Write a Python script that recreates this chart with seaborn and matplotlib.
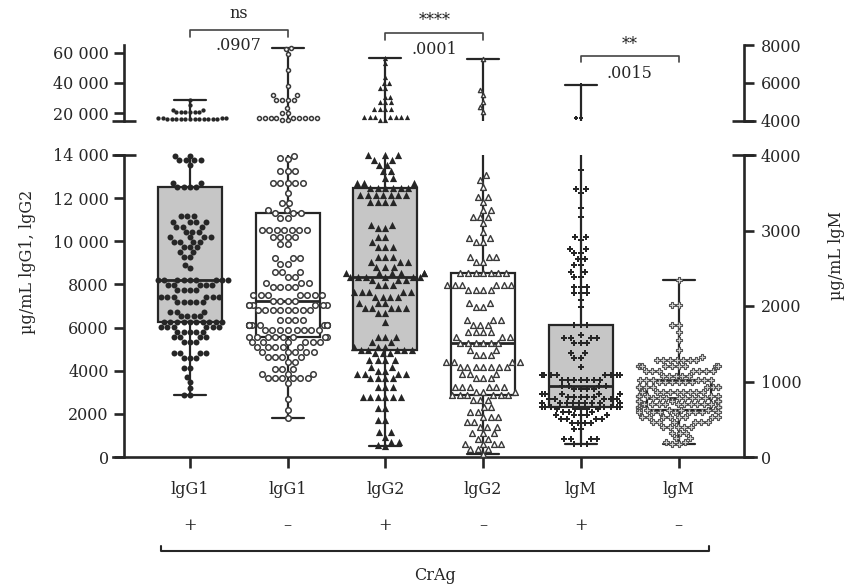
import warnings
warnings.filterwarnings("ignore")
import matplotlib
matplotlib.use("Agg")
import matplotlib.pyplot as plt
import matplotlib.transforms as mtrans
import pandas as pd
import seaborn as sns

# ---------------- data ----------------
groups = ["IgG1+", "IgG1-", "IgG2+", "IgG2-", "IgM+", "IgM-"]
group_labels = ["lgG1", "lgG1", "lgG2", "lgG2", "lgM", "lgM"]
crag_signs = ["+", "–", "+", "–", "+", "–"]
right_axis_groups = ["IgM+", "IgM-"]          # plotted against the right (IgM) axis

igg1_pos = [28900, 25100, 22200, 22200, *[20700] * 6,
            15800, 15900, 16000, 16000, 16100, 16200, 16000, 15900,
            16300, 16500, 16800, 17000, 16400, 15800, 16600, 16200,
            13950, 13950, *[13750] * 4, 13550, 12700, 12700,
            *[12500] * 4,
            *[11150] * 3, *[10900] * 4, *[10680] * 3, *[10450] * 3, *[10200] * 4,
            *[9980] * 4, *[9750] * 3, *[9520] * 2, *[9290] * 2, 8900, 8750,
            *[8200] * 9,
            *[7970] * 5, *[7740] * 4, *[7420] * 6, *[7200] * 5, *[6730] * 3, *[6530] * 4,
            *[6280] * 10,
            *[6040] * 6, *[5810] * 5, *[5570] * 4, *[5340] * 3, *[4800] * 4, *[4570] * 3,
            *[4110] * 2, 3730, 3500, 3180, 2870, 2870]

igg1_neg = [62900, 62500, 59100, 48500, 37800, 31800, 31800, *[28900] * 4, 23600, 20000, 20000,
            16600, 16700, 16800, 16900, 17000, 16900, 16800, 17100, 16700, 15700, 15700,
            13950, 13850, 13800, *[13240] * 3, *[12720] * 5, 12230, 11770, 11770, 11460, 11460,
            *[11300] * 3,
            *[11080] * 2, *[10500] * 7, *[10210] * 4, *[9870] * 2, *[9210] * 3, *[8970] * 2,
            *[8590] * 3, *[8360] * 2, *[8070] * 3, *[7900] * 4, *[7500] * 7,
            *[7250] * 4,
            *[7040] * 6, *[6810] * 8, *[6340] * 4, *[6110] * 12, *[5880] * 8,
            *[5580] * 8,
            *[5350] * 6, *[5120] * 5, *[4870] * 5, *[4640] * 4, *[4410] * 2, *[4100] * 3,
            *[3870] * 3, *[3640] * 6, 3410, 2710, 2170, 1830]

igg2_pos = [56300, 52900, 44000, 39600, 39600, 36300, 36300, 30700, 30700, *[27300] * 3,
            *[22900] * 4, *[17300] * 7, 15700, 15700,
            *[13990] * 3, *[13770] * 2, *[13530] * 2, *[13240] * 2, *[12920] * 2, *[12690] * 3,
            *[12480] * 6,
            *[12150] * 7, *[11830] * 4, *[10750] * 2, *[10600] * 2, *[10210] * 2, 9980,
            *[9750] * 3, *[9290] * 3, *[9060] * 3, *[8830] * 3, *[8510] * 6,
            *[8360] * 6,
            *[8200] * 3, *[7970] * 3, *[7670] * 5, *[7440] * 4, *[7130] * 3, *[6900] * 5,
            *[6670] * 2, 6270, *[5580] * 3, *[5350] * 2, *[5120] * 3,
            *[4950] * 5,
            *[4800] * 3, *[4490] * 4, *[4180] * 2, *[4000] * 2, *[3870] * 4, *[3640] * 4,
            *[3260] * 3, *[2780] * 6, *[2250] * 2, *[1700] * 2, *[1160] * 2, 950,
            *[700] * 2, 540, 500]

igg2_neg = [55600, 35100, 31800, 27300, 24000, 20700,
            13070, 12840, 12530, 12070, 12070, 11830, 11450, 11450, *[11140] * 3, 10830,
            10450, 10140, 10140, 9990, 9990, *[9290] * 3, 9060, 9060,
            *[8510] * 7,
            *[7970] * 6, *[7740] * 4, *[7130] * 2, *[6970] * 2, *[6350] * 3, *[6110] * 3,
            *[5800] * 4, *[5580] * 3,
            *[5300] * 6,
            *[4950] * 2, *[4720] * 3, *[4410] * 4, *[4180] * 7, *[3870] * 3, *[3640] * 3,
            *[3260] * 6, *[3030] * 3,
            *[2860] * 6,
            *[2630] * 3, *[2330] * 2, *[2100] * 2, *[1850] * 3, *[1630] * 2, *[1390] * 3,
            *[1090] * 3, *[850] * 2, *[620] * 4, *[390] * 3, 150]

igm_pos = [5900, 4130, 4130,
           3800, 3546, 3546, 3493, 3294, 3174, 2917, 2917, 2873, 2750, 2750, 2697, 2697,
           2617, 2617, 2542, 2542, 2453, 2453, 2387, 2387, *[2254] * 3, *[2167] * 3, 2078, 1989,
           *[1746] * 3,
           1614, *[1570] * 4, *[1504] * 3, *[1371] * 2, *[1305] * 2, 1193, *[1083] * 8, *[1026] * 7,
           *[941] * 4,
           *[907] * 4, *[841] * 5, *[800] * 5, *[774] * 5, *[720] * 9,
           *[663] * 8,
           *[642] * 5, *[600] * 3, *[553] * 5, *[509] * 4, *[451] * 4, *[377] * 2,
           *[244] * 4, *[178] * 3]

igm_neg = [2343, 2012, 2012, 1746, 1746, 1658, 1547, 1415, 1326, *[1282] * 7, *[1203] * 9,
           *[1136] * 7, *[1070] * 5,
           *[1026] * 6,
           *[995] * 6, *[928] * 10, *[862] * 9, *[810] * 6,
           *[783] * 8,
           *[740] * 10, *[700] * 10, *[663] * 9,
           *[628] * 6,
           *[597] * 8, *[530] * 8, *[464] * 6, *[398] * 5, *[318] * 3, *[252] * 2,
           *[200] * 2, *[178] * 2]

group_values = [igg1_pos, igg1_neg, igg2_pos, igg2_neg, igm_pos, igm_neg]

sig_pairs = [(0, 1), (2, 3), (4, 5)]
sig_stars = ["ns", "****", "**"]
sig_pvals = [".0907", ".0001", ".0015"]

# ---------------- styling ----------------
sns.set_style("ticks")
plt.rcParams["font.family"] = ["DejaVu Serif"]
INK = "#262626"
GRAY = "#c6c6c6"
FS = 11.5
W, H = 846, 588

box_fill = {"IgG1+": GRAY, "IgG1-": "white", "IgG2+": GRAY,
            "IgG2-": "white", "IgM+": GRAY, "IgM-": "white"}
marker_style = {
    "IgG1+": dict(marker="o", size=4.3, color=INK, edgecolor=INK, linewidth=0),
    "IgG1-": dict(marker="o", size=4.0, color="white", edgecolor="#3a3a3a", linewidth=1.1),
    "IgG2+": dict(marker="^", size=5.2, color=INK, edgecolor=INK, linewidth=0),
    "IgG2-": dict(marker="^", size=4.2, color="white", edgecolor="#3a3a3a", linewidth=1.0),
    "IgM+": dict(marker="P", size=4.4, color=INK, edgecolor=INK, linewidth=0),
    "IgM-": dict(marker="P", size=3.7, color="#d8d8d8", edgecolor="#555555", linewidth=0.8),
}

fig = plt.figure(figsize=(W / 100, H / 100), dpi=100)
fig.patch.set_facecolor("white")

x0, x1 = 113 / W, 756 / W
ax_b = fig.add_axes([x0, (H - 457) / H, x1 - x0, (457 - 155) / H])
ax_t = fig.add_axes([x0, (H - 120.7) / H, x1 - x0, (120.7 - 45) / H])
ax_br = ax_b.twinx()
ax_tr = ax_t.twinx()

df = pd.DataFrame({
    "group": [g for g, v in zip(groups, group_values) for _ in v],
    "value": [x for v in group_values for x in v],
})
left_df = df[~df["group"].isin(right_axis_groups)]
right_df = df[df["group"].isin(right_axis_groups)]

box_kw = dict(x="group", y="value", hue="group", order=groups, hue_order=groups,
              palette=box_fill, saturation=1, whis=(0, 100), width=0.655,
              linewidth=1.6, linecolor=INK, showfliers=False, dodge=False, legend=False,
              medianprops=dict(linewidth=2.0, color=INK))
for ax, d in [(ax_b, left_df), (ax_t, left_df), (ax_br, right_df), (ax_tr, right_df)]:
    sns.boxplot(data=d, ax=ax, **box_kw)

# swarms: lower part in the bottom panel, upper part in the top (broken) panel
for g, vals in zip(groups, group_values):
    if g in right_axis_groups:
        ax_lo, ax_hi, split = ax_br, ax_tr, 4000
    else:
        ax_lo, ax_hi, split = ax_b, ax_t, 14500
    lo = [v for v in vals if v <= split]
    hi = [v for v in vals if v > split]
    st = dict(marker_style[g])
    for ax, part, scale in [(ax_lo, lo, 1.0), (ax_hi, hi, 0.72)]:
        if not part:
            continue
        kw = dict(st)
        kw["size"] = st["size"] * scale
        n_before = len(ax.collections)
        sns.swarmplot(x=[g] * len(part), y=part, order=groups, ax=ax,
                      warn_thresh=1.0, zorder=4, **kw)
        for coll in ax.collections[n_before:]:
            coll.set_clip_on(False)

# ---------------- axes limits / spines / ticks ----------------
XL, XR = -0.788, 5.793
SL, SR = -0.676, 5.67
ax_b.set_xlim(XL, XR)
ax_t.set_xlim(XL, XR)
ax_b.set_ylim(0, 14000)
ax_br.set_ylim(0, 4000)
ax_t.set_ylim(15000, 65000)
ax_tr.set_ylim(4000, 8000)

SPW = 1.9
for ax in [ax_b, ax_t, ax_br, ax_tr]:
    ax.set_xlabel("")
    ax.set_ylabel("")
    for s in ax.spines.values():
        s.set_visible(False)
        s.set_linewidth(SPW)
        s.set_color(INK)
ax_t.patch.set_visible(False)
ax_br.patch.set_visible(False)
ax_tr.patch.set_visible(False)

ax_b.spines["left"].set_visible(True)
ax_b.spines["left"].set_position(("data", SL))
ax_b.spines["bottom"].set_visible(True)
ax_t.spines["left"].set_visible(True)
ax_t.spines["left"].set_position(("data", SL))
ax_br.spines["right"].set_visible(True)
ax_br.spines["right"].set_position(("data", SR))
ax_tr.spines["right"].set_visible(True)
ax_tr.spines["right"].set_position(("data", SR))


def fmt(v):
    return f"{v:,}".replace(",", " ") if v >= 10000 else f"{v}"


ax_b.set_yticks(range(0, 14001, 2000))
ax_b.set_yticklabels([fmt(v) for v in range(0, 14001, 2000)])
ax_t.set_yticks([20000, 40000, 60000])
ax_t.set_yticklabels([fmt(v) for v in [20000, 40000, 60000]])
ax_br.set_yticks(range(0, 4001, 1000))
ax_br.set_yticklabels([fmt(v) for v in range(0, 4001, 1000)])
ax_tr.set_yticks([4000, 6000, 8000])
ax_tr.set_yticklabels([fmt(v) for v in [4000, 6000, 8000]])

for ax in [ax_b, ax_t]:
    ax.tick_params(axis="y", left=True, right=False, direction="out", length=7.5,
                   width=SPW, color=INK, labelsize=FS, labelcolor=INK, pad=3.5)
for ax in [ax_br, ax_tr]:
    ax.tick_params(axis="y", left=False, right=True, labelleft=False, labelright=True,
                   direction="out", length=7.5, width=SPW, color=INK, labelsize=FS,
                   labelcolor=INK, pad=4.5)

ax_b.set_xticks(range(len(groups)))
ax_b.set_xticklabels([""] * len(groups))
ax_b.tick_params(axis="x", bottom=True, direction="out", length=8, width=SPW, color=INK)
for ax in [ax_t, ax_br, ax_tr]:
    ax.tick_params(axis="x", bottom=False, top=False, labelbottom=False)

# break caps on the spines
cap = 0.123
for ax, yy in [(ax_b, 1.0), (ax_t, 0.0)]:
    tr = mtrans.blended_transform_factory(ax.transData, ax.transAxes)
    for sx in (SL, SR):
        ax.plot([sx - cap, sx + cap], [yy, yy], transform=tr, clip_on=False,
                color=INK, lw=SPW, solid_capstyle="butt", zorder=6)

# ---------------- annotations ----------------
def fy(py):
    return 1 - py / H


blend = mtrans.blended_transform_factory(ax_b.transData, fig.transFigure)

for i, (lab, sgn) in enumerate(zip(group_labels, crag_signs)):
    ax_b.text(i, fy(490), lab, transform=blend, ha="center", va="center",
              fontsize=FS, color=INK, clip_on=False)
    ax_b.text(i, fy(526), sgn, transform=blend, ha="center", va="center",
              fontsize=FS, color=INK, clip_on=False)

# CrAg bracket
bx0, bx1 = -0.297, 5.31
ax_b.plot([bx0, bx0, bx1, bx1], [fy(545.5), fy(551), fy(551), fy(545.5)],
          transform=blend, clip_on=False, color=INK, lw=1.5)
ax_b.text((bx0 + bx1) / 2, fy(575), "CrAg", transform=blend, ha="center",
          va="center", fontsize=FS, color=INK, clip_on=False)

# significance brackets
sig_geom = [(30, 36.5, 13, 45), (33, 40, 20, 50), (56, 62, 45, 73)]
for (a, b), star, pv, (yl, ye, ys, yp) in zip(sig_pairs, sig_stars, sig_pvals, sig_geom):
    ax_b.plot([a, a, b, b], [fy(ye), fy(yl), fy(yl), fy(ye)], transform=blend,
              clip_on=False, color="#444444", lw=1.2)
    ax_b.text((a + b) / 2, fy(ys), star, transform=blend, ha="center", va="center",
              fontsize=FS, color=INK, clip_on=False)
    ax_b.text((a + b) / 2, fy(yp), pv, transform=blend, ha="center", va="center",
              fontsize=FS, color=INK, clip_on=False)

fig.text(27 / W, fy(262), "µg/mL lgG1, lgG2", rotation=90, ha="center", va="center",
         fontsize=FS, color=INK)
fig.text(836 / W, fy(256), "µg/mL lgM", rotation=90, ha="center", va="center",
         fontsize=FS, color=INK)

fig.savefig("out.png", dpi=100, facecolor="white")
